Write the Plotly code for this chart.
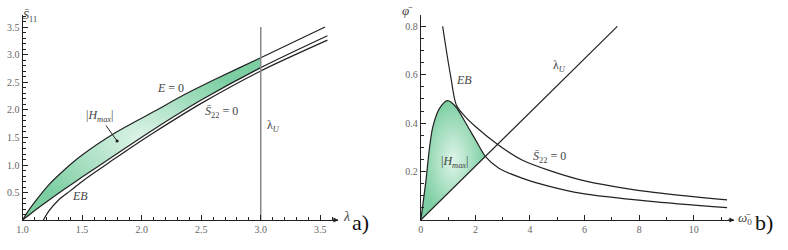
import plotly.graph_objects as go

# ---------------- Panel a) data ----------------
lam_E0 = [1.0, 1.04, 1.1, 1.22, 1.35, 1.5, 1.775, 1.94, 2.11, 2.36, 2.6, 3.0, 3.54]
E0 = [0.0, 0.14, 0.32, 0.64, 0.91, 1.18, 1.58, 1.78, 1.98, 2.28, 2.54, 2.95, 3.51]

lam_S22 = [1.0, 1.1, 1.22, 1.35, 1.5, 1.72, 1.94, 2.11, 2.5, 3.0, 3.56]
S22 = [0.0, 0.17, 0.36, 0.56, 0.78, 1.1, 1.42, 1.66, 2.18, 2.77, 3.35]

lam_EB = [1.175, 1.22, 1.3, 1.4, 1.5, 1.63, 1.75, 1.94, 2.11, 2.5, 3.0, 3.56]
EB_a = [0.0, 0.16, 0.36, 0.53, 0.7, 0.9, 1.08, 1.36, 1.6, 2.12, 2.71, 3.27]

lam_U = 3.0
lam_U_top = 3.51
xticks_a = [1.0, 1.5, 2.0, 2.5, 3.0, 3.5]
yticks_a = [0.5, 1.0, 1.5, 2.0, 2.5, 3.0, 3.5]

# ---------------- Panel b) data ----------------
w_U = [0.0, 7.2]
phi_U = [0.0, 0.8]

w_hump = [0.0, 0.19, 0.32, 0.44, 0.68, 0.98, 1.28, 1.65, 2.01, 2.37, 2.86, 3.71, 4.68, 5.89, 8.33, 11.22]
phi_hump = [0.0, 0.165, 0.30, 0.385, 0.46, 0.493, 0.468, 0.40, 0.33, 0.262, 0.214, 0.173, 0.14, 0.11, 0.078, 0.051]

w_EB = [0.8, 0.95, 1.1, 1.3, 1.6, 2.01, 2.84, 3.71, 4.7, 5.89, 8.33, 11.22]
phi_EB = [0.80, 0.69, 0.59, 0.475, 0.43, 0.385, 0.31, 0.248, 0.205, 0.165, 0.117, 0.083]

w_cross = 2.37
xticks_b = [0, 2, 4, 6, 8, 10]
yticks_b = [0.2, 0.4, 0.6, 0.8]

SERIF = "Liberation Serif, Times New Roman, serif"
LINE = dict(color="#222", width=1.2, shape="spline", smoothing=0.8)
GRAD = dict(type="radial", colorscale=[[0, "rgb(222,244,232)"], [1, "rgb(125,207,163)"]])

fig = go.Figure()

# ---- panel a shading ----
lx = [l for l in lam_S22 if l <= lam_U]
ly = [v for l, v in zip(lam_S22, S22) if l <= lam_U]
ux = [l for l in lam_E0 if l <= lam_U]
uy = [v for l, v in zip(lam_E0, E0) if l <= lam_U]
fig.add_trace(go.Scatter(x=lx, y=ly, mode="lines", line=dict(width=0, shape="spline", smoothing=0.8),
                         xaxis="x", yaxis="y", hoverinfo="skip"))
fig.add_trace(go.Scatter(x=ux, y=uy, mode="lines", line=dict(width=0, shape="spline", smoothing=0.8),
                         fill="tonexty", fillgradient=GRAD, xaxis="x", yaxis="y", hoverinfo="skip"))
# ---- panel a curves ----
fig.add_trace(go.Scatter(x=lam_E0, y=E0, mode="lines", line=LINE, xaxis="x", yaxis="y"))
fig.add_trace(go.Scatter(x=lam_S22, y=S22, mode="lines", line=LINE, xaxis="x", yaxis="y"))
fig.add_trace(go.Scatter(x=lam_EB, y=EB_a, mode="lines", line=LINE, xaxis="x", yaxis="y"))
fig.add_trace(go.Scatter(x=[lam_U, lam_U], y=[0, lam_U_top], mode="lines",
                         line=dict(color="#8a8a8a", width=1.5), xaxis="x", yaxis="y"))

# ---- panel b shading ----
hx = [w for w in w_hump if w <= w_cross]
hy = [p for w, p in zip(w_hump, phi_hump) if w <= w_cross]
slope_U = phi_U[1] / w_U[1]
fig.add_trace(go.Scatter(x=[0, w_cross], y=[0, w_cross * slope_U], mode="lines", line=dict(width=0),
                         xaxis="x2", yaxis="y2", hoverinfo="skip"))
fig.add_trace(go.Scatter(x=hx, y=hy, mode="lines", line=dict(width=0, shape="spline", smoothing=0.8),
                         fill="tonexty", fillgradient=GRAD, xaxis="x2", yaxis="y2", hoverinfo="skip"))
# ---- panel b curves ----
fig.add_trace(go.Scatter(x=w_U, y=phi_U, mode="lines", line=dict(color="#222", width=1.2), xaxis="x2", yaxis="y2"))
fig.add_trace(go.Scatter(x=w_hump, y=phi_hump, mode="lines", line=LINE, xaxis="x2", yaxis="y2"))
fig.add_trace(go.Scatter(x=w_EB, y=phi_EB, mode="lines", line=LINE, xaxis="x2", yaxis="y2"))

TICKFONT = dict(family=SERIF, size=10, color="#666")
common_axis = dict(showgrid=False, zeroline=False, showline=True, linecolor="#222", linewidth=1,
                   ticks="inside", ticklen=5, tickcolor="#222", tickwidth=1, tickfont=TICKFONT)

fig.update_layout(
    width=788, height=250, margin=dict(l=0, r=0, t=0, b=0),
    paper_bgcolor="white", plot_bgcolor="white", showlegend=False,
    xaxis=dict(domain=[16.7 / 788, 335 / 788], range=[1.0, 3.6525], anchor="y",
               tickvals=xticks_a, ticktext=[f"{t:.1f}" for t in xticks_a],
               minor=dict(ticks="inside", dtick=0.1, ticklen=3, tickcolor="#222"), **common_axis),
    yaxis=dict(domain=[0.12, 0.94], range=[0, 3.727], anchor="x",
               tickvals=yticks_a, ticktext=[f"{t:.1f}" for t in yticks_a],
               minor=dict(ticks="inside", dtick=0.1, ticklen=3, tickcolor="#222"), **common_axis),
    xaxis2=dict(domain=[418 / 788, 734 / 788], range=[0, 11.49], anchor="y2",
                tickvals=xticks_b, ticktext=[str(t) for t in xticks_b],
                minor=dict(ticks="inside", dtick=1, ticklen=3, tickcolor="#222"), **common_axis),
    yaxis2=dict(domain=[0.12, 0.94], range=[0, 0.847], anchor="x2",
                tickvals=yticks_b, ticktext=[f"{t:.1f}" for t in yticks_b],
                minor=dict(ticks="inside", dtick=0.05, ticklen=3, tickcolor="#222"), **common_axis),
)

LBL = dict(family=SERIF, size=12, color="#444")
ann = []
# curve labels panel a
ann.append(dict(x=2.244, y=2.4, xref="x", yref="y", text="<i>E</i> = 0", showarrow=False, font=LBL))
ann.append(dict(x=2.67, y=1.96, xref="x", yref="y", text="<i>S̄</i><sub>22</sub> = 0", showarrow=False, font=LBL))
ann.append(dict(x=3.11, y=1.71, xref="x", yref="y", text="λ<sub><i>U</i></sub>", showarrow=False, font=LBL))
ann.append(dict(x=1.486, y=0.436, xref="x", yref="y", text="<i>EB</i>", showarrow=False, font=LBL))
ann.append(dict(x=1.794, y=1.436, xref="x", yref="y", text="|<i>H</i><sub><i>max</i></sub>|", font=LBL,
                showarrow=True, ax=-18, ay=-25, arrowhead=6, arrowsize=0.8, arrowwidth=1, arrowcolor="#222",
                standoff=0))
# curve labels panel b
ann.append(dict(x=1.6, y=0.579, xref="x2", yref="y2", text="<i>EB</i>", showarrow=False, font=LBL))
ann.append(dict(x=5.09, y=0.636, xref="x2", yref="y2", text="λ<sub><i>U</i></sub>", showarrow=False, font=LBL))
ann.append(dict(x=1.24, y=0.24, xref="x2", yref="y2", text="|<i>H</i><sub><i>max</i></sub>|", showarrow=False, font=LBL))
ann.append(dict(x=4.73, y=0.26, xref="x2", yref="y2", text="<i>S̄</i><sub>22</sub> = 0", showarrow=False, font=LBL))
# axis titles
ann.append(dict(x=15 / 788, y=0.975, xref="paper", yref="paper", text="<i>S̄</i><sub>11</sub>", showarrow=False, font=LBL))
ann.append(dict(x=343 / 788, y=0.095, xref="paper", yref="paper", text="<i>λ</i>", showarrow=False,
                font=dict(family=SERIF, size=14, color="#444")))
ann.append(dict(x=405 / 788, y=0.995, xref="paper", yref="paper", text="<i>φ̄</i>", showarrow=False,
                font=dict(family=SERIF, size=13, color="#444")))
ann.append(dict(x=754 / 788, y=0.085, xref="paper", yref="paper", text="<i>ω̄</i><sub>0</sub>", showarrow=False,
                font=dict(family=SERIF, size=13, color="#444")))
# panel letters
ann.append(dict(x=357 / 788, y=0.052, xref="paper", yref="paper", text="a)", showarrow=False,
                font=dict(family=SERIF, size=22, color="#111")))
ann.append(dict(x=775 / 788, y=0.052, xref="paper", yref="paper", text="b)", showarrow=False,
                font=dict(family=SERIF, size=22, color="#111")))
# axis arrowheads
ann.append(dict(x=3.6525, y=0, xref="x", yref="y", ax=-8, ay=0, text="", showarrow=True,
                arrowhead=2, arrowsize=1, arrowwidth=1, arrowcolor="#222"))
ann.append(dict(x=11.49, y=0, xref="x2", yref="y2", ax=-8, ay=0, text="", showarrow=True,
                arrowhead=2, arrowsize=1, arrowwidth=1, arrowcolor="#222"))
fig.update_layout(annotations=ann)

fig.write_html("out.html")
